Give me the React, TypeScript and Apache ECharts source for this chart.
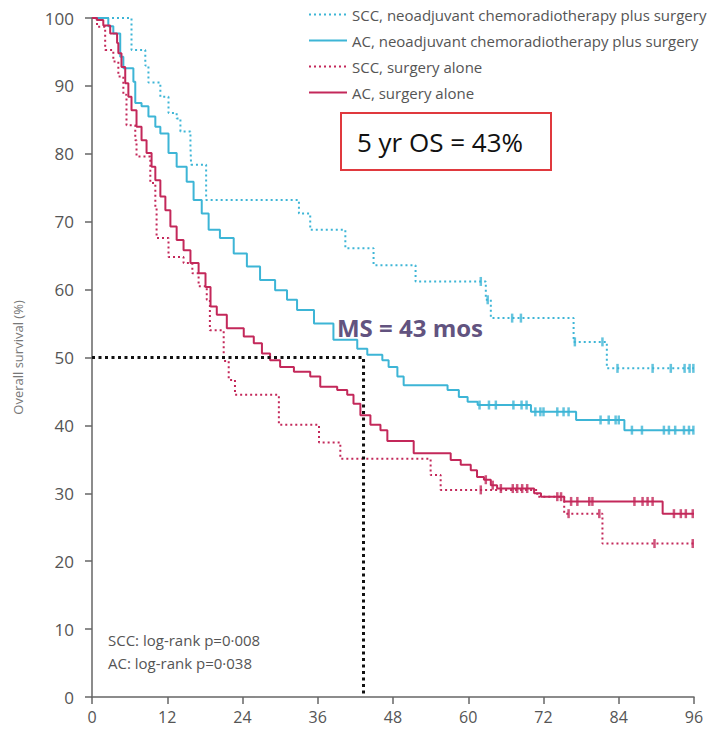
import React, { useEffect, useRef } from "react";
import * as echarts from "echarts";

// ---------- data (months, overall survival %) ----------
const xTicks = [0, 12, 24, 36, 48, 60, 72, 84, 96];

const seriesNames = [
  "SCC, neoadjuvant chemoradiotherapy plus surgery",
  "AC, neoadjuvant chemoradiotherapy plus surgery",
  "SCC, surgery alone",
  "AC, surgery alone",
];

// SCC, neoadjuvant chemoradiotherapy plus surgery
const sccNeoTimes = [0, 6.3, 8.5, 9.0, 10.9, 12.2, 13.5, 14.1, 15.7, 15.8, 18.2, 33.0, 34.8, 40.4, 44.9, 51.6, 62.8, 63.6, 76.8, 82.1, 96];
const sccNeoSurv = [100, 95.3, 93.0, 90.5, 88.4, 86.0, 85.2, 83.3, 81.1, 78.4, 73.2, 71.2, 68.8, 66.1, 63.6, 61.2, 58.5, 55.8, 52.3, 48.4, 48.4];
const sccNeoCensor = [62.0, 63.1, 67.0, 68.4, 77.0, 81.4, 83.8, 89.4, 92.3, 94.5, 95.3, 95.9];

// AC, neoadjuvant chemoradiotherapy plus surgery
const acNeoTimes = [0, 2.6, 3.4, 4.5, 5.0, 6.6, 6.9, 7.9, 9.0, 10.1, 10.9, 12.2, 13.5, 15.1, 16.2, 17.5, 18.6, 20.4, 22.6, 24.7, 26.8, 29.2, 31.1, 32.7, 35.4, 38.5, 42.3, 43.9, 46.3, 47.3, 48.7, 49.7, 56.7, 58.5, 59.9, 61.5, 70.0, 77.2, 84.9, 96];
const acNeoSurv = [100, 98.8, 97.7, 94.3, 92.6, 90.6, 87.5, 87.0, 85.5, 84.0, 83.0, 80.1, 78.1, 75.9, 73.2, 71.2, 68.8, 67.6, 65.3, 63.4, 61.4, 59.9, 58.5, 57.0, 55.0, 52.6, 51.3, 50.4, 49.6, 48.6, 47.2, 45.9, 45.2, 44.2, 43.5, 43.0, 42.0, 40.8, 39.3, 39.3];
const acNeoCensor = [61.8, 63.3, 64.4, 67.2, 68.5, 69.3, 70.7, 71.5, 72.0, 74.2, 75.2, 76.0, 81.1, 82.4, 83.5, 84.0, 86.1, 87.7, 91.2, 92.0, 93.0, 94.4, 95.2, 95.9];

// SCC, surgery alone
const sccSurgTimes = [0, 0.8, 2.1, 3.4, 4.2, 5.0, 5.5, 6.9, 7.1, 9.3, 10.1, 10.3, 12.2, 14.6, 16.0, 17.0, 18.3, 18.8, 21.0, 21.8, 22.8, 29.8, 36.2, 39.6, 54.0, 55.6, 71.0, 75.3, 81.4, 96];
const sccSurgSurv = [100, 98.7, 95.3, 93.6, 91.4, 88.7, 84.2, 82.0, 79.6, 75.7, 72.2, 67.6, 64.8, 63.9, 62.4, 60.5, 58.5, 54.0, 49.5, 46.7, 44.5, 40.1, 37.5, 35.1, 32.7, 30.5, 29.5, 27.0, 22.6, 22.6];
const sccSurgCensor = [62.0, 76.0, 80.9, 89.7, 95.8];

// AC, surgery alone
const acSurgTimes = [0, 0.75, 1.8, 2.9, 4.0, 4.2, 4.7, 5.3, 5.8, 6.3, 7.1, 7.9, 8.7, 9.5, 10.1, 10.9, 11.7, 12.5, 13.5, 14.6, 15.7, 17.0, 18.1, 18.9, 19.9, 21.5, 24.2, 25.8, 27.1, 28.4, 30.0, 32.2, 34.8, 36.4, 39.1, 40.7, 41.7, 42.8, 44.4, 46.0, 47.1, 51.3, 57.2, 58.8, 60.4, 61.4, 62.5, 63.6, 64.6, 70.5, 71.6, 75.3, 91.0, 96];
const acSurgSurv = [100, 99.7, 98.9, 97.7, 96.3, 94.8, 92.8, 90.4, 88.4, 86.4, 84.0, 82.0, 80.1, 78.1, 76.1, 73.7, 71.7, 69.3, 67.3, 65.8, 63.9, 62.4, 60.4, 57.5, 56.3, 54.3, 53.1, 52.1, 50.6, 49.6, 48.6, 47.9, 47.2, 45.7, 45.2, 44.5, 43.2, 41.5, 40.1, 39.3, 37.7, 35.9, 34.9, 34.2, 33.4, 32.4, 32.0, 31.2, 30.7, 30.0, 29.5, 28.8, 27.0, 27.0];
const acSurgCensor = [62.8, 63.9, 65.2, 67.1, 67.8, 68.6, 69.4, 74.2, 74.8, 76.4, 77.4, 79.3, 79.8, 86.5, 87.8, 88.6, 89.4, 92.8, 93.9, 94.7, 95.8];

const medianMonths = 43.3;
const medianSurvival = 50;
const annotationBox = "5 yr OS = 43%";
const annotationMedian = "MS = 43 mos";
const logRankTexts = ["SCC: log-rank p=0·008", "AC: log-rank p=0·038"];

// ---------- styling ----------
const CYAN = "#3db5d6";
const RED = "#c3285a";
const FONT = "'Open Sans', sans-serif";

const pairs = (t: number[], s: number[]) => t.map((v, i) => [v, s[i]]);
const survAt = (t: number[], s: number[], x: number) => {
  let idx = 0;
  for (let i = 0; i < t.length; i++) if (t[i] <= x) idx = i;
  return s[idx];
};
const censorPts = (c: number[], t: number[], s: number[]) => c.map((x) => [x, survAt(t, s, x)]);

export default function App() {
  const ref = useRef<HTMLDivElement>(null);
  useEffect(() => {
    if (!ref.current) return;
    const chart = echarts.init(ref.current, undefined, { renderer: "svg" });

    const curve = (name: string, t: number[], s: number[], color: string, dotted: boolean) => ({
      name,
      type: "line",
      step: "end",
      symbol: "none",
      data: pairs(t, s),
      lineStyle: { color, width: 2, type: dotted ? [2, 3] : "solid" },
      itemStyle: { color },
      z: 3,
    });
    const censor = (t: number[], s: number[], c: number[], color: string) => ({
      type: "scatter",
      symbol: "rect",
      symbolSize: [2.5, 9],
      data: censorPts(c, t, s),
      itemStyle: { color },
      z: 4,
      silent: true,
    });

    chart.setOption({
      animation: false,
      backgroundColor: "#ffffff",
      grid: { left: 92, right: 22, top: 18, bottom: 35, containLabel: false },
      legend: {
        data: seriesNames,
        orient: "vertical",
        left: 303,
        top: 2,
        itemWidth: 38,
        itemHeight: 12,
        itemGap: 11,
        itemStyle: { opacity: 0 },
        textStyle: { fontFamily: FONT, fontSize: 15, color: "#555" },
      },
      xAxis: {
        type: "value",
        min: 0,
        max: 96,
        interval: 12,
        splitLine: { show: false },
        axisLine: { lineStyle: { color: "#666", width: 1.5 } },
        axisTick: { length: 7, lineStyle: { color: "#666", width: 1.5 } },
        axisLabel: { fontFamily: FONT, fontSize: 16, color: "#555", margin: 12, formatter: (v: number) => (xTicks.includes(v) ? String(v) : "") },
      },
      yAxis: {
        type: "value",
        min: 0,
        max: 100,
        interval: 10,
        name: "Overall survival (%)",
        nameLocation: "middle",
        nameRotate: 90,
        nameGap: 68,
        nameTextStyle: { fontFamily: FONT, fontSize: 13, color: "#777" },
        splitLine: { show: false },
        axisLine: { show: true, lineStyle: { color: "#666", width: 1.5 } },
        axisTick: { show: true, length: 7, lineStyle: { color: "#666", width: 1.5 } },
        axisLabel: { fontFamily: FONT, fontSize: 17, color: "#555", margin: 18 },
      },
      series: [
        curve(seriesNames[0], sccNeoTimes, sccNeoSurv, CYAN, true),
        curve(seriesNames[1], acNeoTimes, acNeoSurv, CYAN, false),
        curve(seriesNames[2], sccSurgTimes, sccSurgSurv, RED, true),
        curve(seriesNames[3], acSurgTimes, acSurgSurv, RED, false),
        censor(sccNeoTimes, sccNeoSurv, sccNeoCensor, CYAN),
        censor(acNeoTimes, acNeoSurv, acNeoCensor, CYAN),
        censor(sccSurgTimes, sccSurgSurv, sccSurgCensor, RED),
        censor(acSurgTimes, acSurgSurv, acSurgCensor, RED),
        {
          type: "line",
          symbol: "none",
          data: [[0, medianSurvival], [medianMonths, medianSurvival], [medianMonths, 0]],
          lineStyle: { color: "#111", width: 3, type: [3, 3.5] },
          z: 6,
          silent: true,
        },
      ],
      graphic: [
        {
          type: "rect",
          shape: { x: 341, y: 113, width: 210, height: 57 },
          style: { fill: "#fff", stroke: "#e0393e", lineWidth: 2 },
          z: 10,
        },
        {
          type: "text",
          x: 440,
          y: 142,
          style: { text: annotationBox, fontFamily: FONT, fontSize: 26, fill: "#111", align: "center", verticalAlign: "middle" },
          z: 11,
        },
        {
          type: "text",
          x: 410,
          y: 327,
          style: { text: annotationMedian, fontFamily: FONT, fontSize: 24, fontWeight: "bold", fill: "#62537f", align: "center", verticalAlign: "middle" },
          z: 11,
        },
        {
          type: "text",
          x: 108,
          y: 640,
          style: { text: logRankTexts[0], fontFamily: FONT, fontSize: 15, fill: "#555", verticalAlign: "middle" },
        },
        {
          type: "text",
          x: 108,
          y: 663,
          style: { text: logRankTexts[1], fontFamily: FONT, fontSize: 15, fill: "#555", verticalAlign: "middle" },
        },
      ],
    });
    return () => chart.dispose();
  }, []);
  return <div ref={ref} style={{ position: "absolute", left: 0, top: 0, width: 716, height: 732 }} />;
}
